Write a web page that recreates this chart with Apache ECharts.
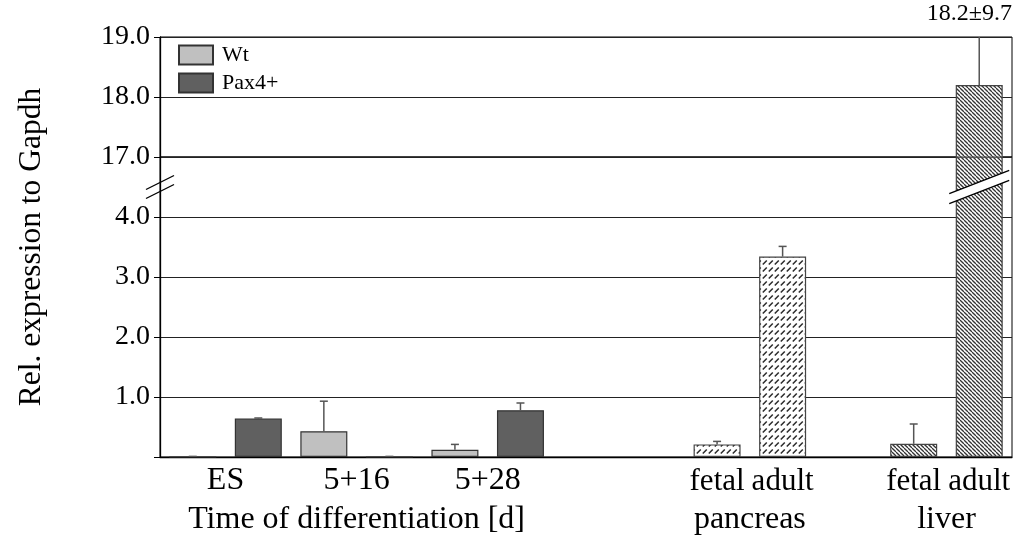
<!DOCTYPE html>
<html><head><meta charset="utf-8">
<script src="https://cdn.jsdelivr.net/npm/echarts@6/dist/echarts.min.js"></script>
<style>html,body{margin:0;padding:0;background:#fff}#c{width:1021px;height:541px}</style>
</head><body><div id="c"></div>
<script>
// ---- data ----
const slotKeys   = ['ES Wt','ES Pax4+','5+16 Wt','5+16 Pax4+','5+28 Wt','5+28 Pax4+','sp1','sp2','fetal pancreas','adult pancreas','sp3','fetal liver','adult liver'];
const slotLabels = ['','','','','','','','','fetal','adult','','fetal','adult'];
const slotGroup  = ['Wt','Pax4+','Wt','Pax4+','Wt','Pax4+',null,null,'pancreas','pancreas',null,'liver','liver'];
const values     = [0.00, 0.64, 0.43, 0.00, 0.12, 0.78, null, null, 0.21, 3.34, null, 0.22, 18.2];
const errors     = [0.01, 0.01, 0.50, 0.01, 0.09, 0.12, null, null, 0.05, 0.17, null, 0.33, 9.7];
const timeLabels = ['', 'ES', '', '5+16', '', '5+28', '', '', '', '', '', '', '', ''];
const groupTitles = ['', '', '', 'Time of differentiation [d]', '', '', '', '', '', 'pancreas', '', '', 'liver', ''];
const lowerTicks = [0, 1, 2, 3, 4, 5];
const upperTicks = [17, 18, 19];
const annotation = '18.2±9.7';
const yTitle = 'Rel. expression to Gapdh';
const legendNames = ['Wt', 'Pax4+'];

const FONT = 'Liberation Serif';
function pick(g) { return values.map((v, i) => slotGroup[i] === g ? v : '-'); }

function hatchLiver() {
  const p = 4, c = document.createElement('canvas'); c.width = p; c.height = p;
  const g = c.getContext('2d'); g.fillStyle = '#fff'; g.fillRect(0, 0, p, p);
  g.strokeStyle = '#333'; g.lineWidth = 1.3;
  for (const k of [-p, 0, p]) { g.beginPath(); g.moveTo(k, 0); g.lineTo(k + p, p); g.stroke(); }
  return c;
}
function hatchPanc() {
  const w = 6, h = 7, c = document.createElement('canvas'); c.width = w; c.height = h;
  const g = c.getContext('2d'); g.fillStyle = '#fff'; g.fillRect(0, 0, w, h);
  g.strokeStyle = '#2a2a2a'; g.lineWidth = 1.5;
  g.beginPath(); g.moveTo(0.8, 5.5); g.lineTo(4.8, 1.5); g.stroke();
  return c;
}
const liverFill = { image: hatchLiver(), repeat: 'repeat' };
const pancFill = { image: hatchPanc(), repeat: 'repeat' };

const errData = values.map((v, i) => v === null ? null : [i, v, errors[i]]).filter(d => d);
function renderErr(params, api) {
  const x = api.value(0), v = api.value(1), e = api.value(2);
  const p0 = api.coord([x, v]), p1 = api.coord([x, v + e]);
  const hw = 4, st = { stroke: '#555', lineWidth: 1.5 };
  return { type: 'group', children: [
    { type: 'line', shape: { x1: p0[0], y1: p0[1], x2: p1[0], y2: p1[1] }, style: st },
    { type: 'line', shape: { x1: p1[0] - hw, y1: p1[1], x2: p1[0] + hw, y2: p1[1] }, style: st }
  ]};
}

const lbl = { fontFamily: FONT, color: '#000' };
const barBase = { type: 'bar', barWidth: 47, barGap: '-100%', xAxisIndex: 0, yAxisIndex: 0 };

const chart = echarts.init(document.getElementById('c'), null, { renderer: 'canvas' });
const option = {
  animation: false,
  backgroundColor: '#fff',
  grid: [
    { left: 160, right: 9, top: 157, bottom: 84, show: true, borderColor: '#000', borderWidth: 1, backgroundColor: 'transparent' },
    { left: 160, right: 9, top: 37, height: 120, show: true, borderColor: '#000', borderWidth: 1, backgroundColor: 'transparent' },
    { left: 160, right: 9, top: 37, bottom: 84 }
  ],
  legend: {
    data: legendNames, orient: 'vertical', left: 173, top: 39, itemWidth: 34, itemHeight: 19, itemGap: 6,
    icon: 'rect', textStyle: { ...lbl, fontSize: 22, padding: [0, 0, 0, 4] }
  },
  xAxis: [
    { gridIndex: 0, type: 'category', data: slotLabels, position: 'bottom',
      axisLine: { onZero: false, lineStyle: { color: '#000', width: 1.3 } }, axisTick: { show: false },
      axisLabel: { ...lbl, fontSize: 31, interval: 0, margin: 9 } },
    { gridIndex: 0, type: 'category', data: timeLabels, boundaryGap: false, position: 'bottom',
      axisLine: { show: false }, axisTick: { show: false },
      axisLabel: { ...lbl, fontSize: 32, interval: 0, margin: 8 } },
    { gridIndex: 0, type: 'category', data: groupTitles, boundaryGap: false, position: 'bottom', offset: 39,
      axisLine: { show: false }, axisTick: { show: false },
      axisLabel: { ...lbl, fontSize: 32, interval: 0, margin: 8 } },
    { gridIndex: 1, type: 'category', data: slotKeys, show: false },
    { gridIndex: 2, type: 'category', data: slotKeys, show: false }
  ],
  yAxis: [
    { gridIndex: 0, type: 'value', min: lowerTicks[0], max: lowerTicks[lowerTicks.length - 1], interval: 1,
      axisLine: { show: true, lineStyle: { color: '#000', width: 1.3 } },
      axisTick: { show: true, length: 6, lineStyle: { color: '#000' } },
      axisLabel: { ...lbl, fontSize: 28, margin: 10, formatter: v => (v > 0 && v < 5) ? v.toFixed(1) : '' },
      splitLine: { show: true, lineStyle: { color: '#222', width: 1.2 } } },
    { gridIndex: 1, type: 'value', min: upperTicks[0], max: upperTicks[upperTicks.length - 1], interval: 1,
      axisLine: { show: true, lineStyle: { color: '#000', width: 1.3 } },
      axisTick: { show: true, length: 6, lineStyle: { color: '#000' } },
      axisLabel: { ...lbl, fontSize: 28, margin: 10, formatter: v => v.toFixed(1) },
      splitLine: { show: true, lineStyle: { color: '#222', width: 1.2 } } },
    { gridIndex: 2, type: 'value', min: 0, max: 1, name: yTitle, nameLocation: 'middle', nameGap: 112,
      nameTextStyle: { ...lbl, fontSize: 31.5 },
      axisLine: { show: false }, axisTick: { show: false }, axisLabel: { show: false }, splitLine: { show: false } }
  ],
  series: [
    { ...barBase, name: 'Wt', data: pick('Wt'), itemStyle: { color: '#c0c0c0', borderColor: '#333', borderWidth: 1.2 } },
    { ...barBase, name: 'Pax4+', data: pick('Pax4+'), itemStyle: { color: '#606060', borderColor: '#333', borderWidth: 1.2 } },
    { ...barBase, name: 'pancreas', data: pick('pancreas'), itemStyle: { color: pancFill, borderColor: '#444', borderWidth: 1.2 } },
    { ...barBase, name: 'liver', data: pick('liver'), itemStyle: { color: liverFill, borderColor: '#444', borderWidth: 1.2 } },
    { type: 'bar', name: 'liver upper', xAxisIndex: 3, yAxisIndex: 1, barWidth: 47, data: pick('liver'),
      itemStyle: { color: liverFill, borderColor: '#444', borderWidth: 1.2 } },
    { type: 'custom', name: 'err lower', xAxisIndex: 0, yAxisIndex: 0, clip: true, z: 5,
      renderItem: renderErr, encode: { x: 0, y: 1 }, data: errData },
    { type: 'custom', name: 'err upper', xAxisIndex: 3, yAxisIndex: 1, clip: true, z: 5,
      renderItem: renderErr, encode: { x: 0, y: 1 }, data: errData }
  ]
};
chart.setOption(option);

// break marks + annotation
const axisX = chart.convertToPixel({ xAxisIndex: 1 }, 0);
const yBrk = chart.convertToPixel({ yAxisIndex: 0 }, 4.5);
const liverX = chart.convertToPixel({ xAxisIndex: 0 }, slotKeys.length - 1);
const ls = { stroke: '#000', lineWidth: 1.3 };
const hl = 30, sl = 0.39, d = 5;
chart.setOption({
  graphic: [
    { type: 'line', z: 100, shape: { x1: axisX - 14, y1: yBrk - 4.5 + 7, x2: axisX + 14, y2: yBrk - 4.5 - 7 }, style: ls },
    { type: 'line', z: 100, shape: { x1: axisX - 14, y1: yBrk + 4.5 + 7, x2: axisX + 14, y2: yBrk + 4.5 - 7 }, style: ls },
    { type: 'polygon', z: 100, shape: { points: [
        [liverX - hl, yBrk - d + hl * sl], [liverX + hl, yBrk - d - hl * sl],
        [liverX + hl, yBrk + d - hl * sl], [liverX - hl, yBrk + d + hl * sl]] },
      style: { fill: '#fff' } },
    { type: 'line', z: 101, shape: { x1: liverX - hl, y1: yBrk - d + hl * sl, x2: liverX + hl, y2: yBrk - d - hl * sl }, style: ls },
    { type: 'line', z: 101, shape: { x1: liverX - hl, y1: yBrk + d + hl * sl, x2: liverX + hl, y2: yBrk + d - hl * sl }, style: ls },
    { type: 'text', right: 9, top: 2, z: 100, style: { text: annotation, font: '24px "Liberation Serif"', fill: '#000' } }
  ]
});
</script>
</body></html>
